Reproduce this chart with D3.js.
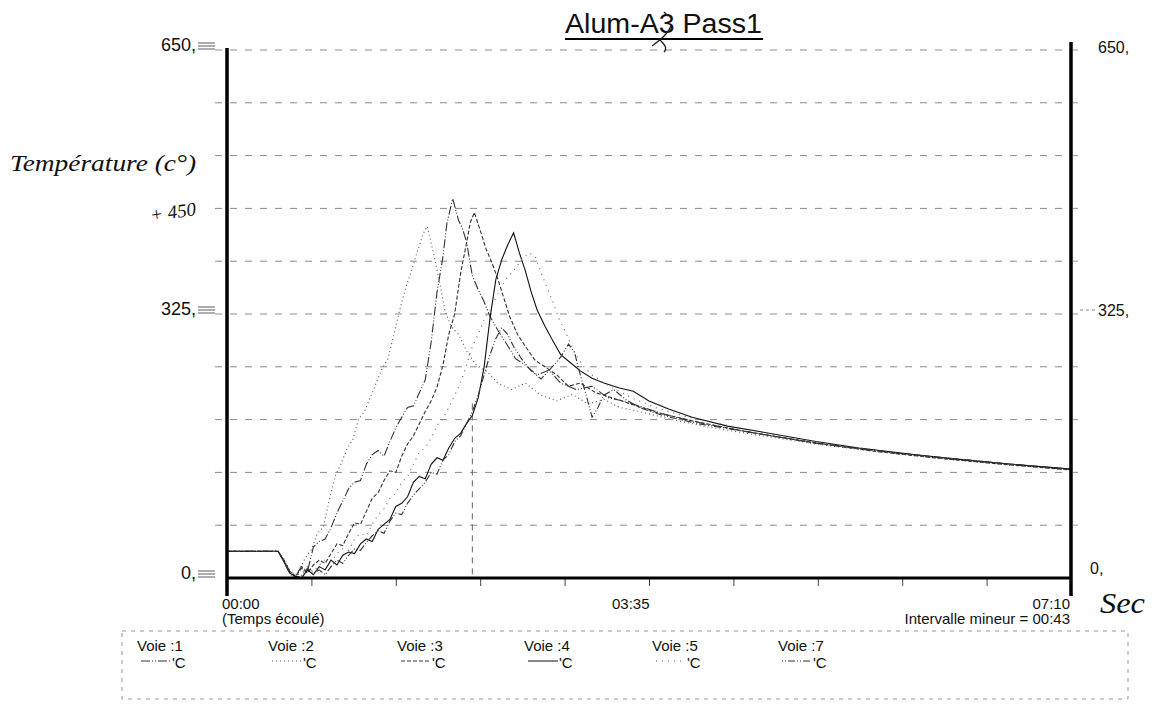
<!DOCTYPE html>
<html>
<head>
<meta charset="utf-8">
<script src="https://cdn.jsdelivr.net/npm/d3@7"></script>
<style>
  html, body { margin: 0; padding: 0; background: #fff; }
  svg { display: block; }
  .sans { font-family: Arial, "Liberation Sans", sans-serif; fill: #111; }
  .serif { font-family: "Times New Roman", "Liberation Serif", serif; font-style: italic; fill: #111; }
</style>
</head>
<body>
<svg id="chart" width="1152" height="704"></svg>
<script>
// Temperature traces [seconds, °C] per channel
const voie1 = [[0,33],[26,33],[29,22],[32,8],[35,3],[38,14],[41,8],[44,38],[47,45],[50,48],[53,62],[56,80],[59,95],[62,110],[65,118],[68,120],[71,140],[74,152],[77,157],[80,150],[83,168],[86,185],[89,198],[92,210],[95,212],[98,228],[101,244],[104,290],[107,352],[110,395],[112,436],[115,467],[118,440],[120,430],[122,414],[125,372],[128,355],[131,340],[134,322],[138,305],[142,290],[147,270],[152,262],[158,250],[164,256],[170,240],[178,232],[186,236],[194,222],[202,218],[212,210],[225,200],[245,189],[270,178],[300,166],[330,157],[360,149],[395,141],[430,134]];
const voie2 = [[0,33],[26,33],[29,24],[32,10],[35,2],[37,12],[40,25],[43,35],[46,55],[49,62],[52,95],[55,125],[58,140],[61,158],[64,170],[67,195],[70,205],[73,222],[76,240],[79,258],[82,270],[85,300],[88,330],[91,357],[94,378],[97,402],[100,424],[102,433],[105,402],[108,368],[111,330],[114,310],[118,300],[122,280],[127,262],[132,255],[138,240],[145,232],[152,240],[160,225],[168,218],[176,226],[184,214],[192,220],[200,210],[210,205],[225,196],[245,186],[270,176],[300,165],[330,156],[360,148],[395,140],[430,133]];
const voie3 = [[0,33],[26,33],[29,22],[32,6],[35,2],[38,12],[41,6],[44,16],[47,22],[50,18],[53,30],[56,42],[59,40],[62,55],[65,68],[68,66],[71,82],[74,98],[77,105],[80,120],[83,132],[86,130],[89,150],[92,165],[95,175],[98,190],[101,205],[104,218],[107,235],[110,262],[113,300],[116,325],[119,375],[122,412],[124,438],[126,450],[129,428],[132,405],[135,388],[138,368],[141,345],[144,322],[148,300],[152,285],[157,268],[162,260],[168,250],[174,236],[180,240],[188,228],[196,222],[206,214],[220,203],[240,192],[265,180],[300,166],[330,156],[360,148],[395,140],[430,133]];
const voie4 = [[0,33],[26,33],[29,20],[32,6],[35,2],[38,0],[41,10],[44,4],[47,14],[50,10],[53,22],[56,16],[59,28],[62,32],[65,30],[68,42],[71,48],[74,45],[77,60],[80,66],[83,72],[86,88],[89,92],[92,100],[95,118],[98,125],[101,122],[104,140],[107,148],[110,145],[113,160],[116,172],[119,178],[122,190],[125,200],[128,222],[131,260],[134,320],[137,368],[140,392],[143,410],[146,425],[149,400],[152,378],[155,352],[158,330],[162,310],[166,292],[170,275],[175,265],[180,255],[186,246],[192,240],[200,234],[207,230],[215,218],[225,208],[237,198],[255,187],[272,180],[300,168],[322,160],[350,152],[373,146],[400,140],[430,134]];
const voie5 = [[0,33],[26,33],[29,22],[32,8],[35,3],[38,6],[41,14],[44,8],[47,16],[50,22],[53,20],[56,30],[59,36],[62,34],[65,48],[68,55],[71,52],[74,66],[77,78],[80,85],[83,98],[86,105],[89,118],[92,125],[95,140],[98,155],[101,160],[104,172],[107,188],[110,196],[113,210],[116,225],[119,240],[122,262],[125,285],[128,300],[131,318],[134,330],[138,350],[142,368],[146,378],[150,392],[154,400],[157,396],[160,376],[163,358],[166,340],[169,320],[173,300],[177,278],[181,262],[186,250],[192,240],[198,232],[206,222],[218,210],[235,198],[255,188],[280,176],[310,164],[340,154],[370,147],[400,140],[430,133]];
const voie7 = [[0,33],[26,33],[29,20],[32,5],[35,0],[38,3],[41,12],[44,6],[47,10],[50,4],[53,14],[56,22],[59,18],[62,28],[65,36],[68,34],[71,44],[74,52],[77,58],[80,55],[83,70],[86,80],[89,78],[92,92],[95,102],[98,110],[101,118],[104,130],[107,128],[110,145],[113,152],[116,168],[119,175],[122,190],[125,205],[128,225],[131,250],[134,275],[137,295],[140,308],[143,300],[146,285],[150,270],[155,255],[160,245],[165,258],[170,272],[174,288],[177,278],[180,250],[183,225],[186,198],[189,210],[192,225],[197,232],[203,220],[210,210],[222,200],[240,190],[260,182],[285,172],[310,163],[340,154],[370,147],[400,140],[430,134]];

const channelNames = ["Voie :1", "Voie :2", "Voie :3", "Voie :4", "Voie :5", "Voie :7"];
const channelData = [voie1, voie2, voie3, voie4, voie5, voie7];
const channelDash = ["9,2,1,2,1,2", "1,3", "4,2", null, "1,5", "1,2,1,2,7,2"];
const channelColor = ["#333", "#555", "#333", "#111", "#666", "#333"];

const yTickValues = [0, 325, 650];
const yTickLabels = ["0,", "325,", "650,"];
const gridValues = [65, 130, 195, 260, 325, 390, 455, 520, 585, 650];
const xMinorStep = 43;          // seconds between minor ticks
const xDomainMax = 430;         // 07:10
const cursorTime = 125;         // cursor line position (s)

const svg = d3.select("#chart");
const x = d3.scaleLinear().domain([0, xDomainMax]).range([227, 1071]);
const y = d3.scaleLinear().domain([0, 650]).range([578, 50]);

// dashed horizontal grid
svg.append("g").selectAll("line").data(gridValues).join("line")
  .attr("x1", x(0) - 12).attr("x2", x(xDomainMax))
  .attr("y1", d => y(d)).attr("y2", d => y(d))
  .attr("stroke", "#8a8a8a").attr("stroke-width", 1)
  .attr("stroke-dasharray", "7,8");

// vertical cursor line
svg.append("line")
  .attr("x1", x(cursorTime)).attr("x2", x(cursorTime))
  .attr("y1", y(215)).attr("y2", y(0))
  .attr("stroke", "#666").attr("stroke-width", 1)
  .attr("stroke-dasharray", "6,5");

// traces
const line = d3.line().x(d => x(d[0])).y(d => y(d[1]));
svg.append("g").selectAll("path").data(channelData).join("path")
  .attr("d", line)
  .attr("fill", "none")
  .attr("stroke", (d, i) => channelColor[i])
  .attr("stroke-width", 1.1)
  .attr("stroke-dasharray", (d, i) => channelDash[i]);

// bottom axis with minor ticks below
const xTicks = d3.range(0, xDomainMax + 1, xMinorStep);
const xAxis = d3.axisBottom(x).tickValues(xTicks).tickSize(8).tickFormat("");
const gx = svg.append("g").attr("transform", `translate(0,${y(0)})`).call(xAxis);
gx.select(".domain").remove();
gx.selectAll(".tick line").attr("stroke", "#444").attr("stroke-width", 1);

svg.append("line").attr("x1", x(0)).attr("x2", x(xDomainMax))
  .attr("y1", y(0)).attr("y2", y(0)).attr("stroke", "#000").attr("stroke-width", 3);

// left and right axes
svg.append("line").attr("x1", x(0)).attr("x2", x(0))
  .attr("y1", y(650) - 2).attr("y2", 596).attr("stroke", "#000").attr("stroke-width", 3.5);
svg.append("line").attr("x1", x(xDomainMax)).attr("x2", x(xDomainMax))
  .attr("y1", 42).attr("y2", 596).attr("stroke", "#000").attr("stroke-width", 3.5);

// right-side small ticks
svg.append("g").selectAll("line").data(gridValues).join("line")
  .attr("x1", x(xDomainMax) + 2).attr("x2", x(xDomainMax) + 7)
  .attr("y1", d => y(d)).attr("y2", d => y(d))
  .attr("stroke", "#999").attr("stroke-width", 1);

// left tick labels with scale glyph
const leftLab = svg.append("g").selectAll("g").data(yTickValues).join("g")
  .attr("transform", d => `translate(0,${y(d)})`);
leftLab.append("text").attr("class", "sans")
  .attr("x", 196).attr("y", 1)
  .attr("text-anchor", "end").attr("font-size", 18)
  .text((d, i) => yTickLabels[i]);
[ -7, -4, -1 ].forEach(off => {
  leftLab.append("line")
    .attr("x1", 198).attr("x2", 215)
    .attr("y1", off).attr("y2", off)
    .attr("stroke", "#333").attr("stroke-width", 0.8);
});

// right tick labels
svg.append("g").selectAll("text").data(yTickValues).join("text")
  .attr("class", "sans")
  .attr("x", d => d === 0 ? 1090 : 1098)
  .attr("y", d => d === 650 ? y(d) + 3 : d === 325 ? y(d) + 2 : y(d) - 4)
  .attr("font-size", 16)
  .text((d, i) => yTickLabels[i]);
svg.append("line").attr("x1", 1080).attr("x2", 1095)
  .attr("y1", y(325) - 4).attr("y2", y(325) - 4)
  .attr("stroke", "#888").attr("stroke-dasharray", "3,3");

// title
svg.append("text").attr("class", "sans")
  .attr("x", 565).attr("y", 33).attr("font-size", 27)
  .attr("textLength", 197).attr("lengthAdjust", "spacingAndGlyphs")
  .text("Alum-A3 Pass1");
svg.append("line").attr("x1", 565).attr("x2", 763).attr("y1", 39).attr("y2", 39)
  .attr("stroke", "#000").attr("stroke-width", 1.8);
svg.append("path")
  .attr("d", "M 652 46 C 660 40, 668 34, 671 26 M 660 40 C 664 44, 668 48, 664 52 M 664 12 L 668 16")
  .attr("fill", "none").attr("stroke", "#222").attr("stroke-width", 1.4);

// axis captions
svg.append("text").attr("class", "serif")
  .attr("x", 10).attr("y", 171).attr("font-size", 24)
  .attr("textLength", 186).attr("lengthAdjust", "spacingAndGlyphs")
  .text("Température (c°)");
svg.append("text").attr("class", "serif")
  .attr("x", 150).attr("y", 218).attr("font-size", 19).attr("fill", "#444")
  .attr("transform", "rotate(-8,175,212)")
  .text("+ 450");
svg.append("text").attr("class", "serif")
  .attr("x", 1100).attr("y", 613).attr("font-size", 29)
  .attr("textLength", 45).attr("lengthAdjust", "spacingAndGlyphs")
  .text("Sec");

// time labels
const timeLabels = [
  { t: "00:00", x: 222, y: 609, a: "start" },
  { t: "(Temps écoulé)", x: 222, y: 624, a: "start" },
  { t: "03:35", x: 612, y: 609, a: "start" },
  { t: "07:10", x: 1070, y: 609, a: "end" },
  { t: "Intervalle mineur = 00:43", x: 1070, y: 624, a: "end" }
];
svg.append("g").selectAll("text").data(timeLabels).join("text")
  .attr("class", "sans").attr("font-size", 15)
  .attr("x", d => d.x).attr("y", d => d.y).attr("text-anchor", d => d.a)
  .text(d => d.t);

// legend frame
svg.append("rect").attr("x", 122).attr("y", 631).attr("width", 1006).attr("height", 68)
  .attr("fill", "none").attr("stroke", "#999").attr("stroke-width", 1)
  .attr("stroke-dasharray", "4,5");

// legend entries
const legendX = [137, 268, 397, 524, 652, 778];
const legend = svg.append("g").selectAll("g").data(channelNames).join("g")
  .attr("transform", (d, i) => `translate(${legendX[i]},0)`);
legend.append("text").attr("class", "sans").attr("font-size", 15)
  .attr("x", 0).attr("y", 651).text(d => d);
legend.append("line")
  .attr("x1", 4).attr("x2", 34).attr("y1", 661).attr("y2", 661)
  .attr("stroke", (d, i) => channelColor[i]).attr("stroke-width", 1)
  .attr("stroke-dasharray", (d, i) => channelDash[i]);
legend.append("text").attr("class", "sans").attr("font-size", 15)
  .attr("x", 35).attr("y", 668).text("'C");
</script>
</body>
</html>
